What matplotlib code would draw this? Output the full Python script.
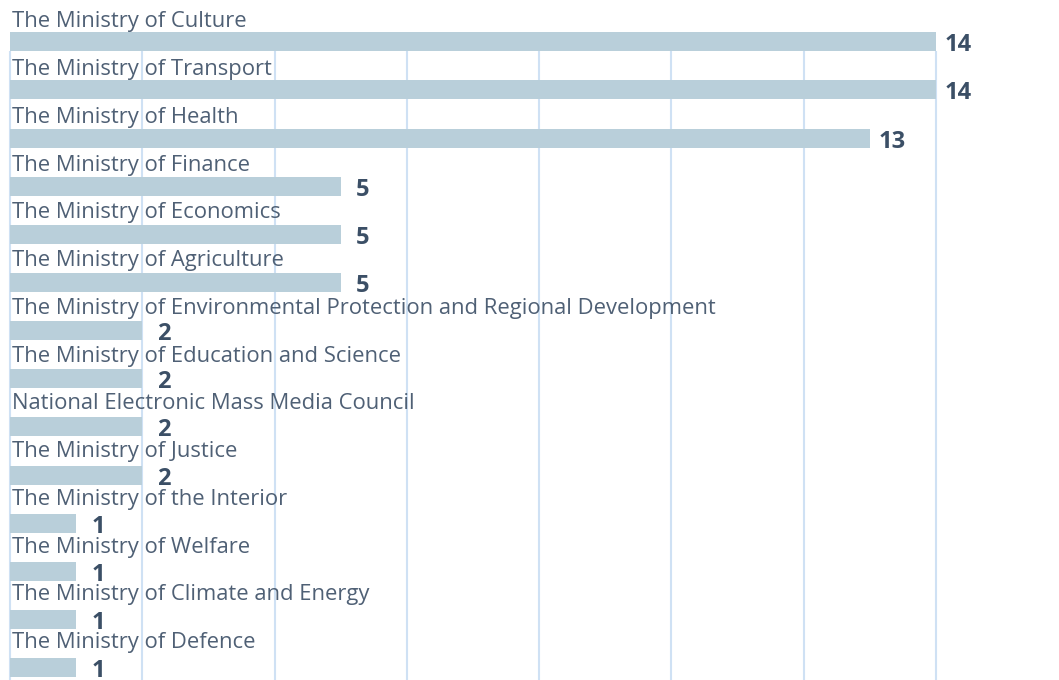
import matplotlib
matplotlib.use("Agg")
import matplotlib.pyplot as plt
import numpy as np

labels = [
    "The Ministry of Culture",
    "The Ministry of Transport",
    "The Ministry of Health",
    "The Ministry of Finance",
    "The Ministry of Economics",
    "The Ministry of Agriculture",
    "The Ministry of Environmental Protection and Regional Development",
    "The Ministry of Education and Science",
    "National Electronic Mass Media Council",
    "The Ministry of Justice",
    "The Ministry of the Interior",
    "The Ministry of Welfare",
    "The Ministry of Climate and Energy",
    "The Ministry of Defence",
]
values = [14, 14, 13, 5, 5, 5, 2, 2, 2, 2, 1, 1, 1, 1]
grid_ticks = [0, 2, 4, 6, 8, 10, 12, 14]

BAR = "#b9cfda"
GRID = "#cfe1f4"
TXT = "#4f6075"
VAL = "#3b4f66"
FONT = "Open Sans"

W, H = 1059, 680
PXX = 66.14          # px per unit on x
PITCH = 48.15        # px per bar row
LPITCH = 47.75       # labels drift slightly vs bars in the original
Y0 = 41.7            # px centre of first bar
L0 = 27.3            # px baseline of first label
BH = 19 / PITCH

fig = plt.figure(figsize=(W / 100, H / 100), dpi=100)
ax = fig.add_axes([0, 0, 1, 1])
ax.set_xlim(-10 / PXX, (W - 10) / PXX)
ax.set_ylim((H - Y0) / PITCH, -Y0 / PITCH)
ax.axis("off")

rows = np.arange(len(values))
ax.vlines(grid_ticks, rows[0] + BH / 2, rows[-1] + 1, color=GRID, lw=1.5, zorder=1)
ax.barh(rows, values, height=BH, color=BAR, zorder=2)

for r, lab, v in zip(rows, labels, values):
    ly = (L0 + LPITCH * r - Y0) / PITCH
    ax.text(0.03, ly, lab, ha="left", va="baseline",
            fontsize=15.8, color=TXT, family=FONT, zorder=3)
    ax.text(v + 22 / PXX, r + BH / 2, str(v), ha="center", va="baseline",
            fontsize=17, fontweight="bold", color=VAL, family=FONT, zorder=3)

fig.savefig("out.png", dpi=100)
